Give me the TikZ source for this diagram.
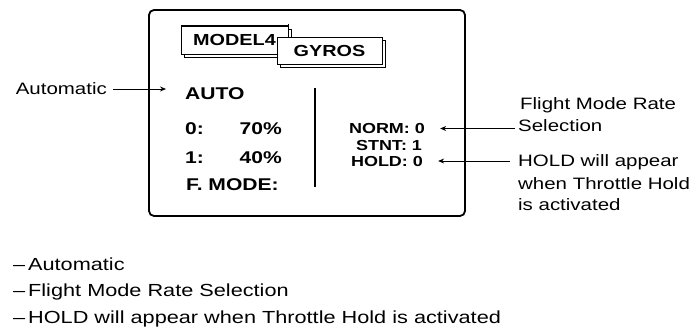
\documentclass[tikz,border=0pt]{standalone}
\usepackage{fontspec}
\setmainfont[FakeStretch=1.24]{Liberation Sans}
\usetikzlibrary{arrows.meta, positioning, shadows}

\begin{document}
\begin{tikzpicture}[
        x=1pt, y=-1pt,
        every node/.style={inner sep=0pt, text depth=0pt},
        note/.style={font=\fontsize{16.5}{20}\selectfont, anchor=west, text height=12pt},
        bullet/.style={font=\fontsize{17.5}{21}\selectfont, anchor=west, text height=12.5pt},
        lcd/.style={font=\fontsize{17}{20}\selectfont\bfseries, text height=12.2pt},
        mode/.style={font=\fontsize{14.5}{17}\selectfont\bfseries, text height=10.4pt},
        tab/.style={draw, line width=0.8pt, fill=white, font=\fontsize{16}{19}\selectfont\bfseries, text height=11.5pt, copy shadow={shadow xshift=3.5pt, shadow yshift=-3.5pt}},
        screen/.style={draw, line width=1.8pt, rounded corners=5pt},
        pointer/.style={draw, line width=0.8pt, -{Stealth[length=6pt, width=5pt]}}
    ]
        \useasboundingbox (0,0) rectangle (689,328);

        % Display frame
        \draw[screen] (149,10) rectangle (465,216);

        % Tabs
        \node[tab, minimum width=107pt, minimum height=28pt] (model) at (234.5,40) {MODEL4};
        \draw[line width=1.6pt] (model.north west) -- (model.north east);
        \draw[line width=1.2pt] (model.north east) ++(0,-2) -- ++(0,12);
        \node[tab, minimum width=105pt, minimum height=27pt] (gyros) at (329.5,50.5) {GYROS};

        % Left column
        \node[lcd, anchor=west] (auto) at (185,93) {AUTO};
        \node[lcd, anchor=west] (rate0) at (185,128) {0:};
        \node[lcd, anchor=east] (val0) at (282,128) {70\%};
        \node[lcd, anchor=west] (rate1) at (185,157) {1:};
        \node[lcd, anchor=east] (val1) at (282,157) {40\%};
        \node[lcd, anchor=west] (fmode) at (186,184.5) {F. MODE:};
        \draw[line width=1.2pt] (315,88) -- (315,187);

        % Right column
        \node[mode] (norm) at (387,128.5) {NORM: 0};
        \node[mode] (stnt) at (389,145) {STNT: 1};
        \node[mode] (hold) at (387,161.5) {HOLD: 0};

        % Callouts
        \node[note, anchor=east] (autolbl) at (107,89) {Automatic};
        \node[note] (flight) at (520,103.5) {Flight Mode Rate};
        \node[note, below=9.5pt of flight.south west, anchor=north west, xshift=-2pt] (sel) {Selection};
        \node[note] (holdA) at (518,161) {HOLD will appear};
        \node[note, below=10pt of holdA.south west, anchor=north west] (holdB) {when Throttle Hold};
        \node[note, below=8.5pt of holdB.south west, anchor=north west] (holdC) {is activated};

        \draw[pointer, shorten <=6pt, shorten >=19pt] (autolbl.east) -- (autolbl.east -| auto.west);
        \draw[pointer, shorten <=3pt, shorten >=15pt] (sel.west |- norm.east) -- (norm.east);
        \draw[pointer, shorten <=8pt, shorten >=15pt] (holdA.west) -- (holdA.west -| hold.east);

        % Legend
        \node[bullet] (leg1) at (13,264) {--\,Automatic};
        \node[bullet] (leg2) at (13,290.5) {--\,Flight Mode Rate Selection};
        \node[bullet] (leg3) at (13,317.5) {--\,HOLD will appear when Throttle Hold is activated};
    \end{tikzpicture}
\end{document}
